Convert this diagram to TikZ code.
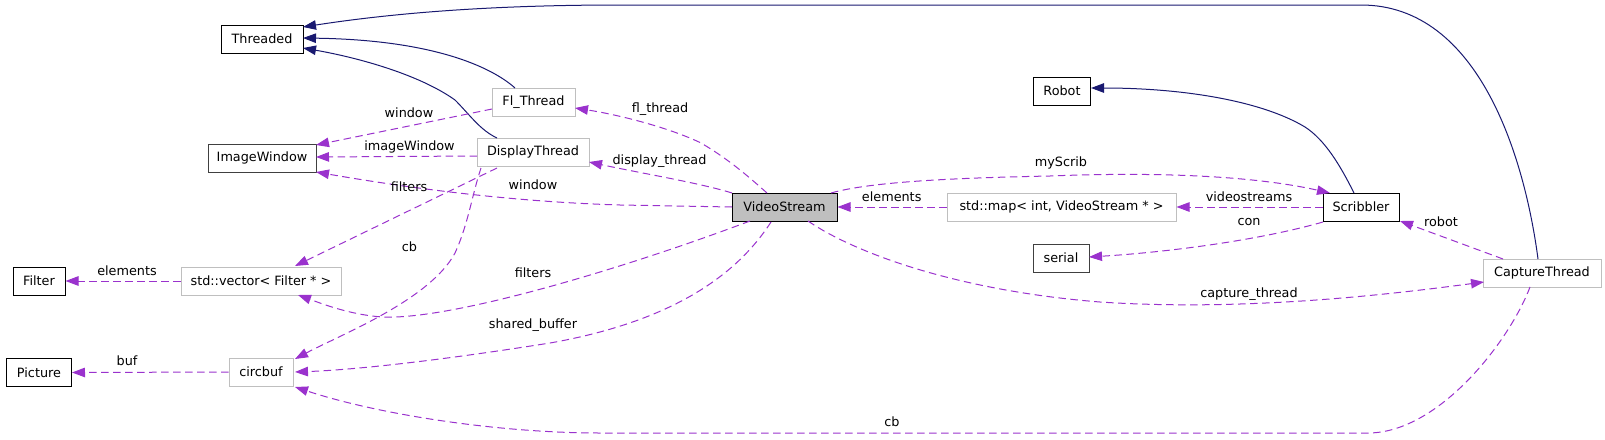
\documentclass[tikz,border=0pt]{standalone}
\usepackage{fontspec}
\setmainfont{DejaVu Sans}
\usetikzlibrary{arrows.meta}
\definecolor{navyc}{RGB}{25,25,112}
\definecolor{purp}{RGB}{154,50,205}
\definecolor{lgrey}{RGB}{191,191,191}
\definecolor{dgrey}{RGB}{64,64,64}
\tikzset{
  box/.style={draw=black, line width=1pt, minimum height=28pt, inner sep=0pt, font=\fontsize{12.8}{15}\selectfont, fill=white},
  gbox/.style={box, draw=lgrey},
  inh/.style={draw=navyc, line width=1pt, -{Triangle[length=13pt,width=9.5pt]}},
  use/.style={draw=purp, line width=1pt, dash pattern=on 7.5pt off 4.5pt, -{Triangle[length=13pt,width=9.5pt]}},
  lbl/.style={font=\fontsize{12.8}{15}\selectfont, inner sep=0pt, text=black}
}
\begin{document}
\begin{tikzpicture}[x=1pt,y=-1pt]
\useasboundingbox (0,0) rectangle (1605,439);
% nodes
\node[box, minimum width=82pt] (threaded) at (262,39) {Threaded};
\node[box, draw=dgrey, minimum width=108pt] (imagewindow) at (262,158) {ImageWindow};
\node[gbox, minimum width=83pt] (flthread) at (533.5,102) {Fl\_Thread};
\node[gbox, minimum width=112pt] (display) at (533,152) {DisplayThread};
\node[box, minimum width=52pt] (filter) at (39,281) {Filter};
\node[gbox, minimum width=160pt] (vector) at (261,281) {std::vector< Filter * >};
\node[box, minimum width=65pt] (picture) at (39,372.5) {Picture};
\node[gbox, minimum width=64pt] (circbuf) at (261,372) {circbuf};
\node[box, fill=lgrey, minimum width=105pt] (vs) at (784.5,207) {VideoStream};
\node[box, minimum width=57pt] (robot) at (1062,91) {Robot};
\node[gbox, minimum width=229pt] (map) at (1061.5,207) {std::map< int, VideoStream * >};
\node[box, draw=dgrey, minimum width=56pt] (serial) at (1061,258) {serial};
\node[box, minimum width=76pt] (scribbler) at (1361,207) {Scribbler};
\node[gbox, minimum width=118pt] (capture) at (1542,273) {CaptureThread};
% coordinates
\coordinate (ct1) at (1538,259);
\coordinate (th1) at (303,27);
\coordinate (fl1) at (515,88);
\coordinate (th2) at (303,38);
\coordinate (dt1) at (497,138);
\coordinate (th3) at (303,48);
\coordinate (sc1) at (1354,193);
\coordinate (rb1) at (1091,88);
% inheritance
\draw[inh] (ct1) .. controls (1525,160) and (1480,5) .. (1361,5) -- (620,5) .. controls (500,5) and (400,12) .. (th1);
\draw[inh] (fl1) .. controls (495,70) and (440,40) .. (th2);
\draw[inh] (dt1) .. controls (480,130) and (470,115) .. (455,100) .. controls (420,75) and (360,58) .. (th3);
\draw[inh] (sc1) .. controls (1340,165) and (1325,140) .. (1305,127) .. controls (1260,100) and (1180,88) .. (rb1);
% usage
\coordinate (fl2) at (492,109);
\coordinate (iw1) at (316,145);
\draw[use] (fl2) -- (iw1);
\coordinate (dt2) at (477,156);
\coordinate (iw2) at (316,157);
\draw[use] (dt2) -- (iw2);
\coordinate (vs1) at (732,207);
\coordinate (iw3) at (316,172);
\draw[use] (vs1) -- (620,205) .. controls (520,202) and (420,190) .. (iw3);
\coordinate (dt3) at (497,168);
\coordinate (vc1) at (295,266);
\draw[use] (dt3) -- (vc1);
\coordinate (dt4) at (481,168);
\coordinate (cb1) at (295,359);
\draw[use] (dt4) .. controls (472,195) and (468,225) .. (455,253) .. controls (430,300) and (340,335) .. (cb1);
\coordinate (vs2) at (767,193);
\coordinate (fl3) at (575,108);
\draw[use] (vs2) .. controls (750,178) and (730,160) .. (701,143) .. controls (670,128) and (620,115) .. (fl3);
\coordinate (vs3) at (732,193);
\coordinate (dt5) at (589,162);
\draw[use] (vs3) .. controls (700,183) and (640,173) .. (dt5);
\coordinate (vs4) at (831,193);
\coordinate (sc2) at (1330,193);
\draw[use] (vs4) .. controls (870,182) and (950,178) .. (1050,176) .. controls (1150,172) and (1250,175) .. (sc2);
\draw[use] (map.west) -- (vs.east);
\draw[use] (scribbler.west) -- (map.east);
\coordinate (sc3) at (1323,222);
\coordinate (se1) at (1089,257);
\draw[use] (sc3) .. controls (1260,240) and (1170,252) .. (se1);
\coordinate (ct2) at (1503,259);
\coordinate (sc4) at (1400,221);
\draw[use] (ct2) -- (sc4);
\coordinate (vs5) at (808,221);
\coordinate (ct3) at (1484,282);
\draw[use] (vs5) .. controls (850,250) and (950,290) .. (1100,302) .. controls (1250,312) and (1400,293) .. (ct3);
\coordinate (ct4) at (1530,287);
\coordinate (cb2) at (295,387);
\draw[use] (ct4) .. controls (1510,340) and (1440,432) .. (1369,433) -- (600,433) .. controls (500,433) and (380,415) .. (cb2);
\draw[use] (vector.west) -- (filter.east);
\draw[use] (circbuf.west) -- (picture.east);
\coordinate (vs6) at (750,221);
\coordinate (vc2) at (298,295);
\draw[use] (vs6) .. controls (620,270) and (450,320) .. (383,317) .. controls (350,315) and (320,303) .. (vc2);
\coordinate (vs7) at (771,222);
\coordinate (cb3) at (295,372);
\draw[use] (vs7) .. controls (740,270) and (680,320) .. (550,343) .. controls (430,362) and (350,370) .. (cb3);
% labels
\node[lbl] (l1) at (409,113) {window};
\node[lbl] (l2) at (409.5,147) {imageWindow};
\node[lbl] (l3) at (409,187) {filters};
\node[lbl] (l4) at (533,185) {window};
\node[lbl] (l5) at (409.5,247) {cb};
\node[lbl] (l6) at (127,271) {elements};
\node[lbl] (l7) at (533,273) {filters};
\node[lbl] (l8) at (533,325) {shared\_buffer};
\node[lbl] (l9) at (127,361) {buf};
\node[lbl] (l10) at (660,109) {fl\_thread};
\node[lbl] (l11) at (659.5,161) {display\_thread};
\node[lbl] (l12) at (1061,163) {myScrib};
\node[lbl] (l13) at (891.7,197) {elements};
\node[lbl] (l14) at (892,422) {cb};
\node[lbl] (l15) at (1249,197) {videostreams};
\node[lbl] (l16) at (1249,222) {con};
\node[lbl] (l17) at (1441,222) {robot};
\node[lbl] (l18) at (1249,294) {capture\_thread};
\end{tikzpicture}
\end{document}
